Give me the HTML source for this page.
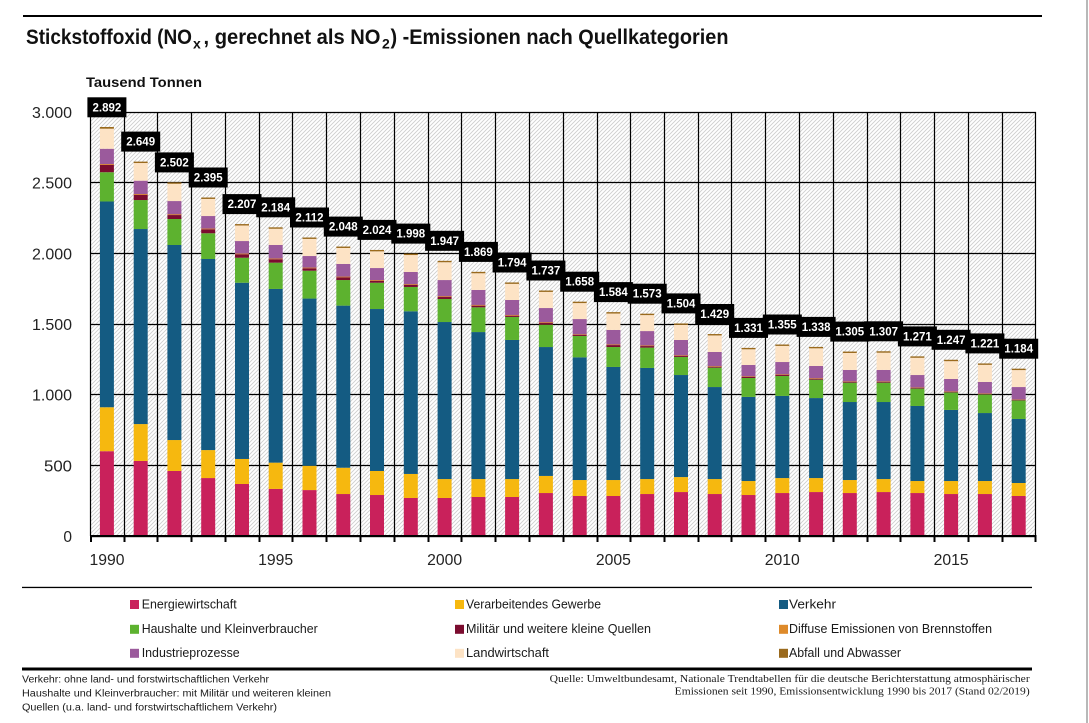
<!DOCTYPE html>
<html><head><meta charset="utf-8"><style>
html,body{margin:0;padding:0;background:#fff;}
svg{display:block;}
text{font-family:"Liberation Sans",sans-serif;}
.t{font-weight:bold;font-size:21px;fill:#111;}
.ts{font-weight:bold;font-size:14px;fill:#111;}
.yl{font-size:15.5px;fill:#222;text-anchor:end;}
.xl{font-size:15.5px;fill:#222;text-anchor:middle;}
.lg{font-size:12.5px;fill:#1a1a1a;}
.fn{font-size:10px;fill:#1a1a1a;}
.fs{font-family:"Liberation Serif",serif;font-size:10.5px;fill:#1a1a1a;text-anchor:end;}
.lb rect{fill:#000;}
.lb text{font-weight:bold;font-size:11.5px;fill:#fff;text-anchor:middle;}
.e{fill:#c9215b;}.v{fill:#f6b80f;}.k{fill:#145b82;}.h{fill:#5db22f;}.m{fill:#7b0c2f;}.d{fill:#de8a2a;}.i{fill:#9b5a9c;}.l{fill:#fde3c5;}.a{fill:#9a6a1d;}
</style></head><body>
<svg width="1089" height="723" viewBox="0 0 1089 723" xmlns="http://www.w3.org/2000/svg">
<defs>
<pattern id="hatch" x="0" y="0" width="4" height="4" patternUnits="userSpaceOnUse">
<rect x="0" y="0" width="4" height="4" fill="#fff"/>
<path d="M-1 1L1 -1M0 4L4 0M3 5L5 3" stroke="#cdcdcd" stroke-width="0.9" fill="none"/>
</pattern>
</defs>

<!-- right gray border -->
<rect x="1086" y="0" width="2" height="723" fill="#b8b8b8"/>

<!-- top rule -->
<rect x="23" y="15" width="1019" height="2" fill="#000"/>

<!-- title -->
<text x="26" y="44" class="t" textLength="166" lengthAdjust="spacingAndGlyphs">Stickstoffoxid (NO</text>
<text x="193" y="48.5" class="ts">x</text>
<text x="203.5" y="44" class="t" textLength="177" lengthAdjust="spacingAndGlyphs">, gerechnet als NO</text>
<text x="382" y="48.5" class="ts">2</text>
<text x="390.5" y="44" class="t" textLength="338" lengthAdjust="spacingAndGlyphs">) -Emissionen nach Quellkategorien</text>

<text x="86" y="87" style="font-weight:bold;font-size:14px;fill:#111" textLength="116" lengthAdjust="spacingAndGlyphs">Tausend Tonnen</text>

<!-- plot background -->
<rect x="90" y="112" width="945.6" height="424" fill="url(#hatch)"/>

<!-- grid -->
<g stroke="#000" stroke-width="1.2" fill="none">
<path d="M90 112.5H1036M90 182.5H1036M90 253.5H1036M90 324.5H1036M90 394.5H1036M90 465.5H1036"/>
<path d="M90.5 112V536M124.5 112V536M157.5 112V536M191.5 112V536M225.5 112V536M259.5 112V536M292.5 112V536M326.5 112V536M360.5 112V536M394.5 112V536M428.5 112V536M461.5 112V536M495.5 112V536M529.5 112V536M563.5 112V536M597.5 112V536M630.5 112V536M664.5 112V536M698.5 112V536M731.5 112V536M765.5 112V536M799.5 112V536M833.5 112V536M867.5 112V536M900.5 112V536M934.5 112V536M968.5 112V536M1002.5 112V536M1035.5 112V536"/>
</g>

<!-- bars -->
<g id="bars">
<g transform="translate(99.9,536) scale(1,-0.14133)"><rect class="e" width="14" y="0" height="600"/><rect class="v" width="14" y="600" height="311"/><rect class="k" width="14" y="911" height="1456"/><rect class="h" width="14" y="2367" height="207"/><rect class="m" width="14" y="2574" height="52"/><rect class="i" width="14" y="2626" height="114"/><rect class="d" width="14" y="2626" height="6"/><rect class="l" width="14" y="2740" height="142"/><rect class="a" width="14" y="2882" height="12"/></g>
<g transform="translate(133.7,536) scale(1,-0.14133)"><rect class="e" width="14" y="0" height="531"/><rect class="v" width="14" y="531" height="261"/><rect class="k" width="14" y="792" height="1380"/><rect class="h" width="14" y="2172" height="205"/><rect class="m" width="14" y="2377" height="36"/><rect class="i" width="14" y="2413" height="101"/><rect class="d" width="14" y="2413" height="6"/><rect class="l" width="14" y="2514" height="125"/><rect class="a" width="14" y="2639" height="10"/></g>
<g transform="translate(167.4,536) scale(1,-0.14133)"><rect class="e" width="14" y="0" height="460"/><rect class="v" width="14" y="460" height="219"/><rect class="k" width="14" y="679" height="1380"/><rect class="h" width="14" y="2059" height="184"/><rect class="m" width="14" y="2243" height="28"/><rect class="i" width="14" y="2271" height="99"/><rect class="d" width="14" y="2271" height="5"/><rect class="l" width="14" y="2370" height="122"/><rect class="a" width="14" y="2492" height="10"/></g>
<g transform="translate(201.2,536) scale(1,-0.14133)"><rect class="e" width="14" y="0" height="410"/><rect class="v" width="14" y="410" height="198"/><rect class="k" width="14" y="608" height="1352"/><rect class="h" width="14" y="1960" height="182"/><rect class="m" width="14" y="2142" height="28"/><rect class="i" width="14" y="2170" height="94"/><rect class="d" width="14" y="2170" height="5"/><rect class="l" width="14" y="2264" height="121"/><rect class="a" width="14" y="2385" height="10"/></g>
<g transform="translate(235.0,536) scale(1,-0.14133)"><rect class="e" width="14" y="0" height="368"/><rect class="v" width="14" y="368" height="177"/><rect class="k" width="14" y="545" height="1247"/><rect class="h" width="14" y="1792" height="177"/><rect class="m" width="14" y="1969" height="24"/><rect class="i" width="14" y="1993" height="94"/><rect class="d" width="14" y="1993" height="5"/><rect class="l" width="14" y="2087" height="110"/><rect class="a" width="14" y="2197" height="10"/></g>
<g transform="translate(268.7,536) scale(1,-0.14133)"><rect class="e" width="14" y="0" height="333"/><rect class="v" width="14" y="333" height="186"/><rect class="k" width="14" y="519" height="1229"/><rect class="h" width="14" y="1748" height="186"/><rect class="m" width="14" y="1934" height="24"/><rect class="i" width="14" y="1958" height="101"/><rect class="d" width="14" y="1958" height="5"/><rect class="l" width="14" y="2059" height="115"/><rect class="a" width="14" y="2174" height="10"/></g>
<g transform="translate(302.5,536) scale(1,-0.14133)"><rect class="e" width="14" y="0" height="325"/><rect class="v" width="14" y="325" height="172"/><rect class="k" width="14" y="497" height="1183"/><rect class="h" width="14" y="1680" height="197"/><rect class="m" width="14" y="1877" height="17"/><rect class="i" width="14" y="1894" height="87"/><rect class="d" width="14" y="1894" height="5"/><rect class="l" width="14" y="1981" height="121"/><rect class="a" width="14" y="2102" height="10"/></g>
<g transform="translate(336.3,536) scale(1,-0.14133)"><rect class="e" width="14" y="0" height="297"/><rect class="v" width="14" y="297" height="186"/><rect class="k" width="14" y="483" height="1147"/><rect class="h" width="14" y="1630" height="181"/><rect class="m" width="14" y="1811" height="19"/><rect class="i" width="14" y="1830" height="95"/><rect class="d" width="14" y="1830" height="5"/><rect class="l" width="14" y="1925" height="113"/><rect class="a" width="14" y="2038" height="10"/></g>
<g transform="translate(370.0,536) scale(1,-0.14133)"><rect class="e" width="14" y="0" height="290"/><rect class="v" width="14" y="290" height="170"/><rect class="k" width="14" y="460" height="1146"/><rect class="h" width="14" y="1606" height="186"/><rect class="m" width="14" y="1792" height="14"/><rect class="i" width="14" y="1806" height="90"/><rect class="d" width="14" y="1806" height="5"/><rect class="l" width="14" y="1896" height="118"/><rect class="a" width="14" y="2014" height="10"/></g>
<g transform="translate(403.8,536) scale(1,-0.14133)"><rect class="e" width="14" y="0" height="269"/><rect class="v" width="14" y="269" height="170"/><rect class="k" width="14" y="439" height="1151"/><rect class="h" width="14" y="1590" height="172"/><rect class="m" width="14" y="1762" height="14"/><rect class="i" width="14" y="1776" height="92"/><rect class="d" width="14" y="1776" height="5"/><rect class="l" width="14" y="1868" height="120"/><rect class="a" width="14" y="1988" height="10"/></g>
<g transform="translate(437.6,536) scale(1,-0.14133)"><rect class="e" width="14" y="0" height="269"/><rect class="v" width="14" y="269" height="134"/><rect class="k" width="14" y="403" height="1111"/><rect class="h" width="14" y="1514" height="163"/><rect class="m" width="14" y="1677" height="14"/><rect class="i" width="14" y="1691" height="120"/><rect class="d" width="14" y="1691" height="5"/><rect class="l" width="14" y="1811" height="126"/><rect class="a" width="14" y="1937" height="10"/></g>
<g transform="translate(471.4,536) scale(1,-0.14133)"><rect class="e" width="14" y="0" height="276"/><rect class="v" width="14" y="276" height="127"/><rect class="k" width="14" y="403" height="1040"/><rect class="h" width="14" y="1443" height="175"/><rect class="m" width="14" y="1618" height="12"/><rect class="i" width="14" y="1630" height="111"/><rect class="d" width="14" y="1630" height="5"/><rect class="l" width="14" y="1741" height="118"/><rect class="a" width="14" y="1859" height="10"/></g>
<g transform="translate(505.1,536) scale(1,-0.14133)"><rect class="e" width="14" y="0" height="276"/><rect class="v" width="14" y="276" height="127"/><rect class="k" width="14" y="403" height="984"/><rect class="h" width="14" y="1387" height="163"/><rect class="m" width="14" y="1550" height="9"/><rect class="i" width="14" y="1559" height="111"/><rect class="d" width="14" y="1559" height="5"/><rect class="l" width="14" y="1670" height="114"/><rect class="a" width="14" y="1784" height="10"/></g>
<g transform="translate(538.9,536) scale(1,-0.14133)"><rect class="e" width="14" y="0" height="304"/><rect class="v" width="14" y="304" height="121"/><rect class="k" width="14" y="425" height="912"/><rect class="h" width="14" y="1337" height="158"/><rect class="m" width="14" y="1495" height="12"/><rect class="i" width="14" y="1507" height="106"/><rect class="d" width="14" y="1507" height="5"/><rect class="l" width="14" y="1613" height="114"/><rect class="a" width="14" y="1727" height="10"/></g>
<g transform="translate(572.7,536) scale(1,-0.14133)"><rect class="e" width="14" y="0" height="283"/><rect class="v" width="14" y="283" height="113"/><rect class="k" width="14" y="396" height="868"/><rect class="h" width="14" y="1264" height="151"/><rect class="m" width="14" y="1415" height="7"/><rect class="i" width="14" y="1422" height="113"/><rect class="d" width="14" y="1422" height="4"/><rect class="l" width="14" y="1535" height="113"/><rect class="a" width="14" y="1648" height="10"/></g>
<g transform="translate(606.4,536) scale(1,-0.14133)"><rect class="e" width="14" y="0" height="283"/><rect class="v" width="14" y="283" height="113"/><rect class="k" width="14" y="396" height="800"/><rect class="h" width="14" y="1196" height="141"/><rect class="m" width="14" y="1337" height="14"/><rect class="i" width="14" y="1351" height="107"/><rect class="d" width="14" y="1351" height="4"/><rect class="l" width="14" y="1458" height="116"/><rect class="a" width="14" y="1574" height="10"/></g>
<g transform="translate(640.2,536) scale(1,-0.14133)"><rect class="e" width="14" y="0" height="297"/><rect class="v" width="14" y="297" height="106"/><rect class="k" width="14" y="403" height="786"/><rect class="h" width="14" y="1189" height="144"/><rect class="m" width="14" y="1333" height="11"/><rect class="i" width="14" y="1344" height="106"/><rect class="d" width="14" y="1344" height="4"/><rect class="l" width="14" y="1450" height="113"/><rect class="a" width="14" y="1563" height="10"/></g>
<g transform="translate(674.0,536) scale(1,-0.14133)"><rect class="e" width="14" y="0" height="311"/><rect class="v" width="14" y="311" height="106"/><rect class="k" width="14" y="417" height="722"/><rect class="h" width="14" y="1139" height="128"/><rect class="m" width="14" y="1267" height="7"/><rect class="i" width="14" y="1274" height="113"/><rect class="d" width="14" y="1274" height="4"/><rect class="l" width="14" y="1387" height="107"/><rect class="a" width="14" y="1494" height="10"/></g>
<g transform="translate(707.7,536) scale(1,-0.14133)"><rect class="e" width="14" y="0" height="297"/><rect class="v" width="14" y="297" height="106"/><rect class="k" width="14" y="403" height="651"/><rect class="h" width="14" y="1054" height="137"/><rect class="m" width="14" y="1191" height="7"/><rect class="i" width="14" y="1198" height="104"/><rect class="d" width="14" y="1198" height="4"/><rect class="l" width="14" y="1302" height="117"/><rect class="a" width="14" y="1419" height="10"/></g>
<g transform="translate(741.5,536) scale(1,-0.14133)"><rect class="e" width="14" y="0" height="290"/><rect class="v" width="14" y="290" height="99"/><rect class="k" width="14" y="389" height="595"/><rect class="h" width="14" y="984" height="134"/><rect class="m" width="14" y="1118" height="7"/><rect class="i" width="14" y="1125" height="85"/><rect class="d" width="14" y="1125" height="4"/><rect class="l" width="14" y="1210" height="111"/><rect class="a" width="14" y="1321" height="10"/></g>
<g transform="translate(775.3,536) scale(1,-0.14133)"><rect class="e" width="14" y="0" height="304"/><rect class="v" width="14" y="304" height="106"/><rect class="k" width="14" y="410" height="581"/><rect class="h" width="14" y="991" height="141"/><rect class="m" width="14" y="1132" height="7"/><rect class="i" width="14" y="1139" height="92"/><rect class="d" width="14" y="1139" height="4"/><rect class="l" width="14" y="1231" height="114"/><rect class="a" width="14" y="1345" height="10"/></g>
<g transform="translate(809.1,536) scale(1,-0.14133)"><rect class="e" width="14" y="0" height="311"/><rect class="v" width="14" y="311" height="99"/><rect class="k" width="14" y="410" height="566"/><rect class="h" width="14" y="976" height="130"/><rect class="m" width="14" y="1106" height="7"/><rect class="i" width="14" y="1113" height="90"/><rect class="d" width="14" y="1113" height="4"/><rect class="l" width="14" y="1203" height="125"/><rect class="a" width="14" y="1328" height="10"/></g>
<g transform="translate(842.8,536) scale(1,-0.14133)"><rect class="e" width="14" y="0" height="304"/><rect class="v" width="14" y="304" height="92"/><rect class="k" width="14" y="396" height="552"/><rect class="h" width="14" y="948" height="137"/><rect class="m" width="14" y="1085" height="5"/><rect class="i" width="14" y="1090" height="85"/><rect class="d" width="14" y="1090" height="3"/><rect class="l" width="14" y="1175" height="120"/><rect class="a" width="14" y="1295" height="10"/></g>
<g transform="translate(876.6,536) scale(1,-0.14133)"><rect class="e" width="14" y="0" height="311"/><rect class="v" width="14" y="311" height="92"/><rect class="k" width="14" y="403" height="545"/><rect class="h" width="14" y="948" height="137"/><rect class="m" width="14" y="1085" height="5"/><rect class="i" width="14" y="1090" height="85"/><rect class="d" width="14" y="1090" height="3"/><rect class="l" width="14" y="1175" height="122"/><rect class="a" width="14" y="1297" height="10"/></g>
<g transform="translate(910.4,536) scale(1,-0.14133)"><rect class="e" width="14" y="0" height="304"/><rect class="v" width="14" y="304" height="85"/><rect class="k" width="14" y="389" height="531"/><rect class="h" width="14" y="920" height="123"/><rect class="m" width="14" y="1043" height="4"/><rect class="i" width="14" y="1047" height="92"/><rect class="d" width="14" y="1047" height="3"/><rect class="l" width="14" y="1139" height="122"/><rect class="a" width="14" y="1261" height="10"/></g>
<g transform="translate(944.1,536) scale(1,-0.14133)"><rect class="e" width="14" y="0" height="297"/><rect class="v" width="14" y="297" height="92"/><rect class="k" width="14" y="389" height="503"/><rect class="h" width="14" y="892" height="124"/><rect class="m" width="14" y="1016" height="3"/><rect class="i" width="14" y="1019" height="92"/><rect class="d" width="14" y="1019" height="3"/><rect class="l" width="14" y="1111" height="126"/><rect class="a" width="14" y="1237" height="10"/></g>
<g transform="translate(977.9,536) scale(1,-0.14133)"><rect class="e" width="14" y="0" height="297"/><rect class="v" width="14" y="297" height="92"/><rect class="k" width="14" y="389" height="481"/><rect class="h" width="14" y="870" height="132"/><rect class="m" width="14" y="1002" height="3"/><rect class="i" width="14" y="1005" height="85"/><rect class="d" width="14" y="1005" height="3"/><rect class="l" width="14" y="1090" height="121"/><rect class="a" width="14" y="1211" height="10"/></g>
<g transform="translate(1011.7,536) scale(1,-0.14133)"><rect class="e" width="14" y="0" height="283"/><rect class="v" width="14" y="283" height="92"/><rect class="k" width="14" y="375" height="453"/><rect class="h" width="14" y="828" height="131"/><rect class="m" width="14" y="959" height="3"/><rect class="i" width="14" y="962" height="92"/><rect class="d" width="14" y="962" height="3"/><rect class="l" width="14" y="1054" height="120"/><rect class="a" width="14" y="1174" height="10"/></g>
</g>

<!-- x axis -->
<rect x="90" y="535" width="946.5" height="2.2" fill="#000"/>
<g stroke="#000" stroke-width="2">
<path d="M91 536V542M124.5 536V542M157.5 536V542M191.5 536V542M225.5 536V542M259.5 536V542M292.5 536V542M326.5 536V542M360.5 536V542M394.5 536V542M428.5 536V542M461.5 536V542M495.5 536V542M529.5 536V542M563.5 536V542M597.5 536V542M630.5 536V542M664.5 536V542M698.5 536V542M731.5 536V542M765.5 536V542M799.5 536V542M833.5 536V542M867.5 536V542M900.5 536V542M934.5 536V542M968.5 536V542M1002.5 536V542M1035.5 536V542"/>
</g>

<!-- y labels -->
<text class="yl" x="72" y="118" textLength="40" lengthAdjust="spacingAndGlyphs">3.000</text>
<text class="yl" x="72" y="188.7" textLength="40" lengthAdjust="spacingAndGlyphs">2.500</text>
<text class="yl" x="72" y="259.3" textLength="40" lengthAdjust="spacingAndGlyphs">2.000</text>
<text class="yl" x="72" y="330" textLength="40" lengthAdjust="spacingAndGlyphs">1.500</text>
<text class="yl" x="72" y="400.7" textLength="40" lengthAdjust="spacingAndGlyphs">1.000</text>
<text class="yl" x="72" y="471.3" textLength="28" lengthAdjust="spacingAndGlyphs">500</text>
<text class="yl" x="72" y="541.8">0</text>

<!-- x labels -->
<text class="xl" x="107" y="565" textLength="35" lengthAdjust="spacingAndGlyphs">1990</text>
<text class="xl" x="275.7" y="565" textLength="35" lengthAdjust="spacingAndGlyphs">1995</text>
<text class="xl" x="444.6" y="565" textLength="35" lengthAdjust="spacingAndGlyphs">2000</text>
<text class="xl" x="613.4" y="565" textLength="35" lengthAdjust="spacingAndGlyphs">2005</text>
<text class="xl" x="782.3" y="565" textLength="35" lengthAdjust="spacingAndGlyphs">2010</text>
<text class="xl" x="951.1" y="565" textLength="35" lengthAdjust="spacingAndGlyphs">2015</text>

<!-- value labels -->
<g class="lb">
<g transform="translate(106.9,127.3)"><rect x="-19.5" y="-30" width="39" height="20"/><text x="0" y="-16">2.892</text></g>
<g transform="translate(140.7,161.6)"><rect x="-19.5" y="-30" width="39" height="20"/><text x="0" y="-16">2.649</text></g>
<g transform="translate(174.4,182.4)"><rect x="-19.5" y="-30" width="39" height="20"/><text x="0" y="-16">2.502</text></g>
<g transform="translate(208.2,197.5)"><rect x="-19.5" y="-30" width="39" height="20"/><text x="0" y="-16">2.395</text></g>
<g transform="translate(242.0,224.1)"><rect x="-19.5" y="-30" width="39" height="20"/><text x="0" y="-16">2.207</text></g>
<g transform="translate(275.7,227.3)"><rect x="-19.5" y="-30" width="39" height="20"/><text x="0" y="-16">2.184</text></g>
<g transform="translate(309.5,237.5)"><rect x="-19.5" y="-30" width="39" height="20"/><text x="0" y="-16">2.112</text></g>
<g transform="translate(343.3,246.6)"><rect x="-19.5" y="-30" width="39" height="20"/><text x="0" y="-16">2.048</text></g>
<g transform="translate(377.0,249.9)"><rect x="-19.5" y="-30" width="39" height="20"/><text x="0" y="-16">2.024</text></g>
<g transform="translate(410.8,253.6)"><rect x="-19.5" y="-30" width="39" height="20"/><text x="0" y="-16">1.998</text></g>
<g transform="translate(444.6,260.8)"><rect x="-19.5" y="-30" width="39" height="20"/><text x="0" y="-16">1.947</text></g>
<g transform="translate(478.4,271.9)"><rect x="-19.5" y="-30" width="39" height="20"/><text x="0" y="-16">1.869</text></g>
<g transform="translate(512.1,282.5)"><rect x="-19.5" y="-30" width="39" height="20"/><text x="0" y="-16">1.794</text></g>
<g transform="translate(545.9,290.5)"><rect x="-19.5" y="-30" width="39" height="20"/><text x="0" y="-16">1.737</text></g>
<g transform="translate(579.7,301.7)"><rect x="-19.5" y="-30" width="39" height="20"/><text x="0" y="-16">1.658</text></g>
<g transform="translate(613.4,312.1)"><rect x="-19.5" y="-30" width="39" height="20"/><text x="0" y="-16">1.584</text></g>
<g transform="translate(647.2,313.7)"><rect x="-19.5" y="-30" width="39" height="20"/><text x="0" y="-16">1.573</text></g>
<g transform="translate(681.0,323.4)"><rect x="-19.5" y="-30" width="39" height="20"/><text x="0" y="-16">1.504</text></g>
<g transform="translate(714.7,334.0)"><rect x="-19.5" y="-30" width="39" height="20"/><text x="0" y="-16">1.429</text></g>
<g transform="translate(748.5,347.9)"><rect x="-19.5" y="-30" width="39" height="20"/><text x="0" y="-16">1.331</text></g>
<g transform="translate(782.3,344.5)"><rect x="-19.5" y="-30" width="39" height="20"/><text x="0" y="-16">1.355</text></g>
<g transform="translate(816.1,346.9)"><rect x="-19.5" y="-30" width="39" height="20"/><text x="0" y="-16">1.338</text></g>
<g transform="translate(849.8,351.6)"><rect x="-19.5" y="-30" width="39" height="20"/><text x="0" y="-16">1.305</text></g>
<g transform="translate(883.6,351.3)"><rect x="-19.5" y="-30" width="39" height="20"/><text x="0" y="-16">1.307</text></g>
<g transform="translate(917.4,356.4)"><rect x="-19.5" y="-30" width="39" height="20"/><text x="0" y="-16">1.271</text></g>
<g transform="translate(951.1,359.8)"><rect x="-19.5" y="-30" width="39" height="20"/><text x="0" y="-16">1.247</text></g>
<g transform="translate(984.9,363.4)"><rect x="-19.5" y="-30" width="39" height="20"/><text x="0" y="-16">1.221</text></g>
<g transform="translate(1018.7,368.7)"><rect x="-19.5" y="-30" width="39" height="20"/><text x="0" y="-16">1.184</text></g>
</g>

<!-- legend -->
<rect x="22" y="586.8" width="1010" height="1.3" fill="#000"/>
<rect x="130" y="600" width="9" height="9" class="e"/>
<text class="lg" x="141.7" y="608.5" textLength="95" lengthAdjust="spacingAndGlyphs">Energiewirtschaft</text>
<rect x="130" y="624.8" width="9" height="9" class="h"/>
<text class="lg" x="141.7" y="633" textLength="176" lengthAdjust="spacingAndGlyphs">Haushalte und Kleinverbraucher</text>
<rect x="130" y="648.8" width="9" height="9" class="i"/>
<text class="lg" x="141.7" y="657" textLength="98" lengthAdjust="spacingAndGlyphs">Industrieprozesse</text>

<rect x="455" y="600" width="9" height="9" class="v"/>
<text class="lg" x="466" y="608.5" textLength="135" lengthAdjust="spacingAndGlyphs">Verarbeitendes Gewerbe</text>
<rect x="455" y="624.8" width="9" height="9" class="m"/>
<text class="lg" x="466" y="633" textLength="185" lengthAdjust="spacingAndGlyphs">Militär und weitere kleine Quellen</text>
<rect x="455" y="648.8" width="9" height="9" class="l"/>
<text class="lg" x="466" y="657" textLength="83" lengthAdjust="spacingAndGlyphs">Landwirtschaft</text>

<rect x="779" y="600" width="9" height="9" class="k"/>
<text class="lg" x="789" y="608.5" textLength="47" lengthAdjust="spacingAndGlyphs">Verkehr</text>
<rect x="779" y="624.8" width="9" height="9" class="d"/>
<text class="lg" x="789" y="633" textLength="203" lengthAdjust="spacingAndGlyphs">Diffuse Emissionen von Brennstoffen</text>
<rect x="779" y="648.8" width="9" height="9" class="a"/>
<text class="lg" x="789" y="657" textLength="112" lengthAdjust="spacingAndGlyphs">Abfall und Abwasser</text>

<rect x="22" y="667.5" width="1010" height="3" fill="#000"/>

<!-- footnotes -->
<text class="fn" x="22" y="682.5" textLength="247" lengthAdjust="spacingAndGlyphs">Verkehr: ohne land- und forstwirtschaftlichen Verkehr</text>
<text class="fn" x="22" y="696.5" textLength="309" lengthAdjust="spacingAndGlyphs">Haushalte und Kleinverbraucher: mit Militär und weiteren kleinen</text>
<text class="fn" x="22" y="710.5" textLength="255" lengthAdjust="spacingAndGlyphs">Quellen (u.a. land- und forstwirtschaftlichem Verkehr)</text>

<text class="fs" x="1029.7" y="682" textLength="480" lengthAdjust="spacingAndGlyphs">Quelle: Umweltbundesamt, Nationale Trendtabellen für die deutsche Berichterstattung atmosphärischer</text>
<text class="fs" x="1029.7" y="694.5" textLength="355" lengthAdjust="spacingAndGlyphs">Emissionen seit 1990, Emissionsentwicklung 1990 bis 2017 (Stand 02/2019)</text>
</svg>
</body></html>
